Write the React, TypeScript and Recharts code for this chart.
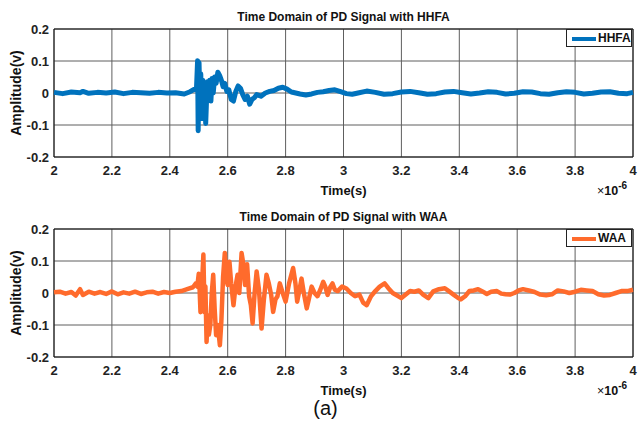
import React from 'react';
import {
  LineChart,
  Line,
  XAxis,
  YAxis,
  CartesianGrid,
  ReferenceArea,
} from 'recharts';

const FONT = '"Liberation Sans", Arial, Helvetica, sans-serif';

// x ticks are in units of 1e-6 s
const xTicks = [2, 2.2, 2.4, 2.6, 2.8, 3, 3.2, 3.4, 3.6, 3.8, 4];
const yTicks = [-0.2, -0.1, 0, 0.1, 0.2];

const tHHFA = [
  2.0, 2.03, 2.06, 2.09, 2.1, 2.12, 2.15, 2.18, 2.21, 2.24, 2.27, 2.3, 2.33,
  2.36, 2.39, 2.42, 2.45, 2.47, 2.485, 2.492, 2.496, 2.498, 2.501, 2.504,
  2.507, 2.51, 2.514, 2.517, 2.52, 2.524, 2.527, 2.53, 2.534, 2.538, 2.542,
  2.546, 2.55, 2.555, 2.56, 2.566, 2.572, 2.578, 2.584, 2.59, 2.597, 2.604,
  2.612, 2.62, 2.628, 2.636, 2.644, 2.652, 2.66, 2.668, 2.676, 2.684, 2.692,
  2.7, 2.715, 2.73, 2.745, 2.76, 2.775, 2.79, 2.805, 2.82, 2.835, 2.85, 2.87,
  2.89, 2.91, 2.93, 2.95, 2.97, 2.99, 3.01, 3.03, 3.05, 3.08, 3.11, 3.14,
  3.17, 3.2, 3.23, 3.26, 3.29, 3.32, 3.35, 3.38, 3.41, 3.44, 3.47, 3.5, 3.53,
  3.56, 3.59, 3.62, 3.65, 3.68, 3.71, 3.74, 3.77, 3.8, 3.83, 3.86, 3.89,
  3.92, 3.95, 3.98, 4.0,
];
const hhfa = [
  0.002, -0.002, 0.003, 0.001, 0.005, -0.001, 0.002, 0.0, 0.003, -0.002,
  0.002, 0.001, -0.001, 0.002, 0.0, 0.001, -0.003, 0.004, 0.012, 0.01, 0.101,
  -0.118, 0.095, -0.03, 0.06, -0.08, 0.04, -0.05, 0.03, -0.095, -0.02, 0.035,
  -0.01, 0.04, -0.025, 0.045, 0.0, 0.05, 0.03, 0.065, 0.055, 0.04, 0.02,
  0.03, 0.005, 0.01, -0.02, -0.025, 0.005, 0.022, 0.015, -0.005, -0.02,
  -0.01, -0.035, -0.02, -0.015, -0.005, -0.01, 0.0, 0.005, 0.008, 0.015,
  0.018, 0.012, 0.003, 0.0, -0.003, -0.006, -0.003, 0.002, 0.004, 0.008,
  0.01, 0.004, -0.002, -0.004, 0.0, 0.006, 0.002, -0.004, -0.002, 0.003,
  0.005, 0.001, -0.004, -0.002, 0.003, 0.005, 0.001, -0.003, 0.0, 0.004,
  0.002, -0.003, -0.001, 0.004, 0.003, -0.002, -0.004, 0.001, 0.004, 0.002,
  -0.003, -0.001, 0.003, 0.004, -0.001, -0.002, 0.002,
];

const tWAA = [
  2.0, 2.02, 2.04, 2.06, 2.075, 2.09, 2.1, 2.12, 2.14, 2.16, 2.18, 2.2, 2.22,
  2.24, 2.26, 2.28, 2.3, 2.32, 2.34, 2.36, 2.38, 2.4, 2.42, 2.44, 2.46, 2.48,
  2.49, 2.495, 2.5, 2.503, 2.506, 2.509, 2.512, 2.516, 2.52, 2.523, 2.527,
  2.531, 2.535, 2.54, 2.545, 2.55, 2.555, 2.56, 2.566, 2.573, 2.578, 2.584,
  2.59, 2.596, 2.6, 2.606, 2.612, 2.62, 2.627, 2.634, 2.64, 2.648, 2.654,
  2.66, 2.667, 2.674, 2.68, 2.686, 2.693, 2.7, 2.708, 2.717, 2.725, 2.734,
  2.742, 2.75, 2.757, 2.765, 2.772, 2.78, 2.79, 2.8, 2.812, 2.826, 2.834,
  2.84, 2.848, 2.855, 2.863, 2.873, 2.88, 2.89, 2.9, 2.91, 2.92, 2.93, 2.937,
  2.945, 2.955, 2.962, 2.97, 2.98, 2.995, 3.01, 3.025, 3.04, 3.055, 3.068,
  3.08, 3.095, 3.11, 3.125, 3.142, 3.155, 3.17, 3.185, 3.2, 3.215, 3.23,
  3.245, 3.26, 3.275, 3.293, 3.31, 3.33, 3.35, 3.365, 3.38, 3.395, 3.405,
  3.42, 3.435, 3.45, 3.465, 3.48, 3.495, 3.51, 3.53, 3.545, 3.56, 3.575,
  3.59, 3.605, 3.62, 3.64, 3.66, 3.68, 3.7, 3.72, 3.74, 3.76, 3.78, 3.8,
  3.82, 3.84, 3.86, 3.88, 3.9, 3.92, 3.94, 3.96, 3.98, 4.0,
];
const waa = [
  0.002, 0.004, -0.002, 0.003, -0.008, 0.012, -0.006, 0.004, -0.002, 0.003,
  -0.003, 0.005, -0.004, 0.002, -0.002, 0.004, -0.003, 0.002, 0.004, -0.002,
  0.003, 0.0, 0.004, 0.006, 0.012, 0.018, 0.03, 0.02, 0.06, 0.01, -0.06,
  0.05, 0.04, 0.12, -0.06, 0.02, -0.153, -0.07, -0.13, -0.1, 0.0, 0.057,
  -0.05, -0.132, -0.1, -0.163, -0.09, 0.05, 0.125, 0.04, 0.025, 0.098, 0.03,
  -0.038, 0.02, 0.057, 0.0, 0.125, 0.09, 0.025, 0.09, -0.01, -0.038, -0.095,
  0.0, 0.067, 0.01, -0.111, -0.02, 0.057, 0.03, -0.005, -0.059, -0.02, -0.01,
  0.03, 0.0, -0.027, 0.03, 0.078, 0.03, -0.027, 0.01, 0.045, 0.0, -0.048,
  -0.02, 0.02, 0.0, -0.01, 0.01, 0.035, 0.02, -0.006, 0.02, 0.03, 0.01, 0.006,
  0.02, 0.014, 0.0, -0.01, -0.005, -0.03, -0.038, -0.01, 0.006, 0.02, 0.03,
  0.015, 0.0, -0.008, -0.016, -0.005, 0.006, 0.004, 0.008, -0.005, -0.016,
  0.005, 0.012, 0.015, 0.005, -0.005, -0.015, -0.02, -0.01, 0.006, 0.008,
  0.012, 0.005, -0.003, 0.004, 0.006, -0.002, -0.004, -0.005, 0.0, 0.008,
  0.012, 0.008, 0.003, -0.005, -0.007, -0.004, 0.008, 0.005, 0.0, 0.004,
  0.01, 0.008, 0.006, -0.004, -0.008, -0.006, 0.0, 0.006, 0.006, 0.01,
];

const tickStyle = {
  fill: '#222',
  fontSize: 13,
  fontWeight: 'bold',
  fontFamily: FONT,
};

const fmt = (v: number) => String(Number(v.toFixed(1)));

type PanelProps = {
  top: number;
  title: string;
  name: string;
  color: string;
  t: number[];
  v: number[];
  strokeWidth: number;
};

const Panel = ({ top, title, name, color, t, v, strokeWidth }: PanelProps) => {
  const data = t.map((x, i) => ({ t: x, v: v[i] }));
  const bold = { fontFamily: FONT, fontWeight: 'bold' as const, color: '#111' };

  return (
    <div style={{ position: 'absolute', left: 0, top, width: 639, height: 200 }}>
      <LineChart
        width={639}
        height={200}
        data={data}
        margin={{ top: 29, right: 6, bottom: 13, left: 0 }}
      >
        <CartesianGrid stroke="#5e5e5e" strokeWidth={1} />
        <XAxis
          dataKey="t"
          type="number"
          domain={[2, 4]}
          ticks={xTicks}
          tickFormatter={fmt}
          axisLine={false}
          tickLine={false}
          tickSize={6}
          tickMargin={3}
          height={30}
          tick={tickStyle}
          interval={0}
        />
        <YAxis
          type="number"
          domain={[-0.2, 0.2]}
          ticks={yTicks}
          tickFormatter={fmt}
          axisLine={false}
          tickLine={false}
          tickSize={3}
          tickMargin={2}
          width={54}
          tick={tickStyle}
          interval={0}
        />
        <ReferenceArea
          x1={2}
          x2={4}
          y1={-0.2}
          y2={0.2}
          fill="none"
          stroke="#111"
          strokeWidth={1}
        />
        <Line
          type="linear"
          dataKey="v"
          stroke={color}
          strokeWidth={strokeWidth}
          strokeLinejoin="round"
          dot={false}
          isAnimationActive={false}
        />
      </LineChart>

      <div
        style={{
          ...bold,
          position: 'absolute',
          left: 54,
          width: 579,
          top: 10,
          textAlign: 'center',
          fontSize: 12,
          lineHeight: '14px',
        }}
      >
        {title}
      </div>

      <div
        style={{
          position: 'absolute',
          left: 566,
          top: 29,
          width: 66,
          height: 18,
          background: '#fff',
          border: '1px solid #222',
          boxSizing: 'border-box',
        }}
      >
        <div
          style={{
            position: 'absolute',
            left: 5,
            top: 7,
            width: 24,
            height: 4,
            background: color,
          }}
        />
        <div
          style={{
            ...bold,
            position: 'absolute',
            left: 31,
            top: 1,
            fontSize: 12,
            lineHeight: '14px',
          }}
        >
          {name}
        </div>
      </div>

      <div
        style={{
          ...bold,
          position: 'absolute',
          left: 54,
          width: 579,
          top: 183,
          textAlign: 'center',
          fontSize: 13,
          lineHeight: '15px',
        }}
      >
        Time(s)
      </div>

      <div
        style={{
          ...bold,
          position: 'absolute',
          left: 597,
          top: 184,
          fontSize: 12.5,
          lineHeight: '14px',
          whiteSpace: 'nowrap',
        }}
      >
        <span style={{ fontWeight: 'normal' }}>×</span>10
        <span style={{ position: 'relative', top: -6, fontSize: 10 }}>-6</span>
      </div>

      <div
        style={{
          ...bold,
          position: 'absolute',
          left: 16,
          top: 93,
          fontSize: 14,
          lineHeight: '16px',
          whiteSpace: 'nowrap',
          transform: 'translate(-50%, -50%) rotate(-90deg)',
        }}
      >
        Amplitude(v)
      </div>
    </div>
  );
};

export default function App() {
  return (
    <div
      style={{
        position: 'absolute',
        left: 0,
        top: 0,
        width: 639,
        height: 422,
        background: '#fff',
        overflow: 'hidden',
      }}
    >
      <Panel
        top={0}
        title="Time Domain of PD Signal with HHFA"
        name="HHFA"
        color="#0072BD"
        t={tHHFA}
        v={hhfa}
        strokeWidth={5}
      />
      <Panel
        top={200}
        title="Time Domain of PD Signal with WAA"
        name="WAA"
        color="#FF6B2C"
        t={tWAA}
        v={waa}
        strokeWidth={4.5}
      />
      <div
        style={{
          position: 'absolute',
          left: 0,
          width: 651,
          top: 396,
          textAlign: 'center',
          fontFamily: FONT,
          fontSize: 20,
          lineHeight: '24px',
          color: '#111',
        }}
      >
        (a)
      </div>
    </div>
  );
}
